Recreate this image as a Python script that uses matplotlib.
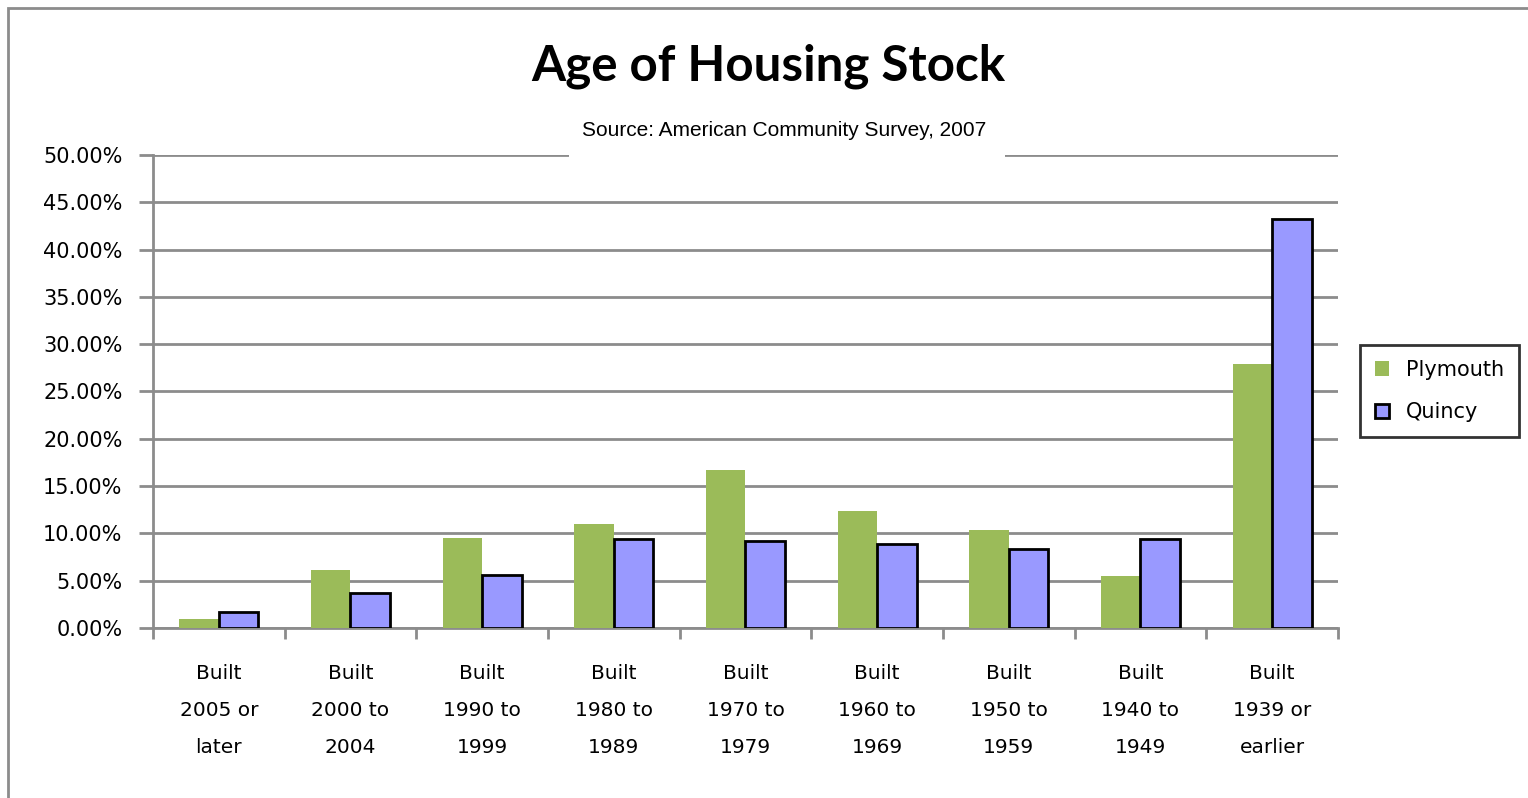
import numpy as np
import matplotlib
matplotlib.use('Agg')
import matplotlib.pyplot as plt
from matplotlib.patches import Rectangle

# Data (percent of housing units)
categories = ['Built\n2005 or\nlater', 'Built\n2000 to\n2004', 'Built\n1990 to\n1999',
              'Built\n1980 to\n1989', 'Built\n1970 to\n1979', 'Built\n1960 to\n1969',
              'Built\n1950 to\n1959', 'Built\n1940 to\n1949', 'Built\n1939 or\nearlier']
plymouth = [1.0, 6.1, 9.5, 11.0, 16.7, 12.4, 10.4, 5.5, 27.9]
quincy = [1.7, 3.7, 5.6, 9.4, 9.2, 8.9, 8.3, 9.4, 43.2]
y_ticks = [0, 5, 10, 15, 20, 25, 30, 35, 40, 45, 50]

W, H = 1528, 798
fig = plt.figure(figsize=(W / 100, H / 100), dpi=100)
ax = fig.add_axes([153 / W, 1 - 628 / H, (1338 - 153) / W, (628 - 155) / H])

grid_c = '#8c8c8c'
x = np.arange(len(categories))
bw = 0.3
ax.bar(x - bw / 2, plymouth, bw, color='#9BBB59', label='Plymouth', zorder=3)
ax.bar(x + bw / 2, quincy, bw, color='#9999FF', edgecolor='black', linewidth=2,
       label='Quincy', zorder=3)

ax.set_xlim(-0.5, len(categories) - 0.5)
ax.set_ylim(0, 50)
ax.set_yticks(y_ticks)
ax.set_yticklabels(['%.2f%%' % v for v in y_ticks])
ax.yaxis.grid(True, color=grid_c, linewidth=2, zorder=0)
ax.set_axisbelow(True)

# category labels at centres, tick marks at boundaries
ax.set_xticks(np.arange(len(categories) + 1) - 0.5)
ax.set_xticklabels([])
ax.tick_params(axis='x', length=8, width=2, color=grid_c, direction='out')
ax.set_xticks(x, minor=True)
ax.set_xticklabels(categories, minor=True, fontsize=14.5, linespacing=2.2)
ax.tick_params(axis='x', which='minor', length=0, pad=26)
ax.tick_params(axis='y', length=10, width=2, color=grid_c, labelsize=15, pad=12)

for s in ['top', 'right']:
    ax.spines[s].set_visible(False)
for s in ['left', 'bottom']:
    ax.spines[s].set_color(grid_c)
    ax.spines[s].set_linewidth(2)

# title and source
fig.text(768 / W, 1 - 66 / H, 'Age of Housing Stock', ha='center', va='center',
         fontsize=35.5, fontweight='bold', family='Lato')
# white box behind the source note breaks the top gridline
fig.patches.append(Rectangle((569 / W, 1 - 162 / H), (1005 - 569) / W, 52 / H,
                             transform=fig.transFigure, facecolor='white',
                             edgecolor='none', zorder=5))
fig.text(784 / W, 1 - 130 / H, 'Source: American Community Survey, 2007', ha='center',
         va='center', fontsize=15, family='Liberation Sans', zorder=10)

leg = fig.legend(loc='upper left', bbox_to_anchor=(1360 / W, 1 - 345 / H), fontsize=15,
                 frameon=True, fancybox=False, edgecolor='black', handlelength=0.7,
                 handleheight=0.7, labelspacing=1.1, borderpad=0.7, handletextpad=0.8,
                 borderaxespad=0)
leg.get_frame().set_linewidth(2)

# outer chart border
fig.patches.append(Rectangle((8 / W, -0.05), 1.1, 1 - 8 / H + 0.05, transform=fig.transFigure,
                             fill=False, edgecolor='#8c8c8c', linewidth=2))

fig.savefig('out.png', dpi=100)
